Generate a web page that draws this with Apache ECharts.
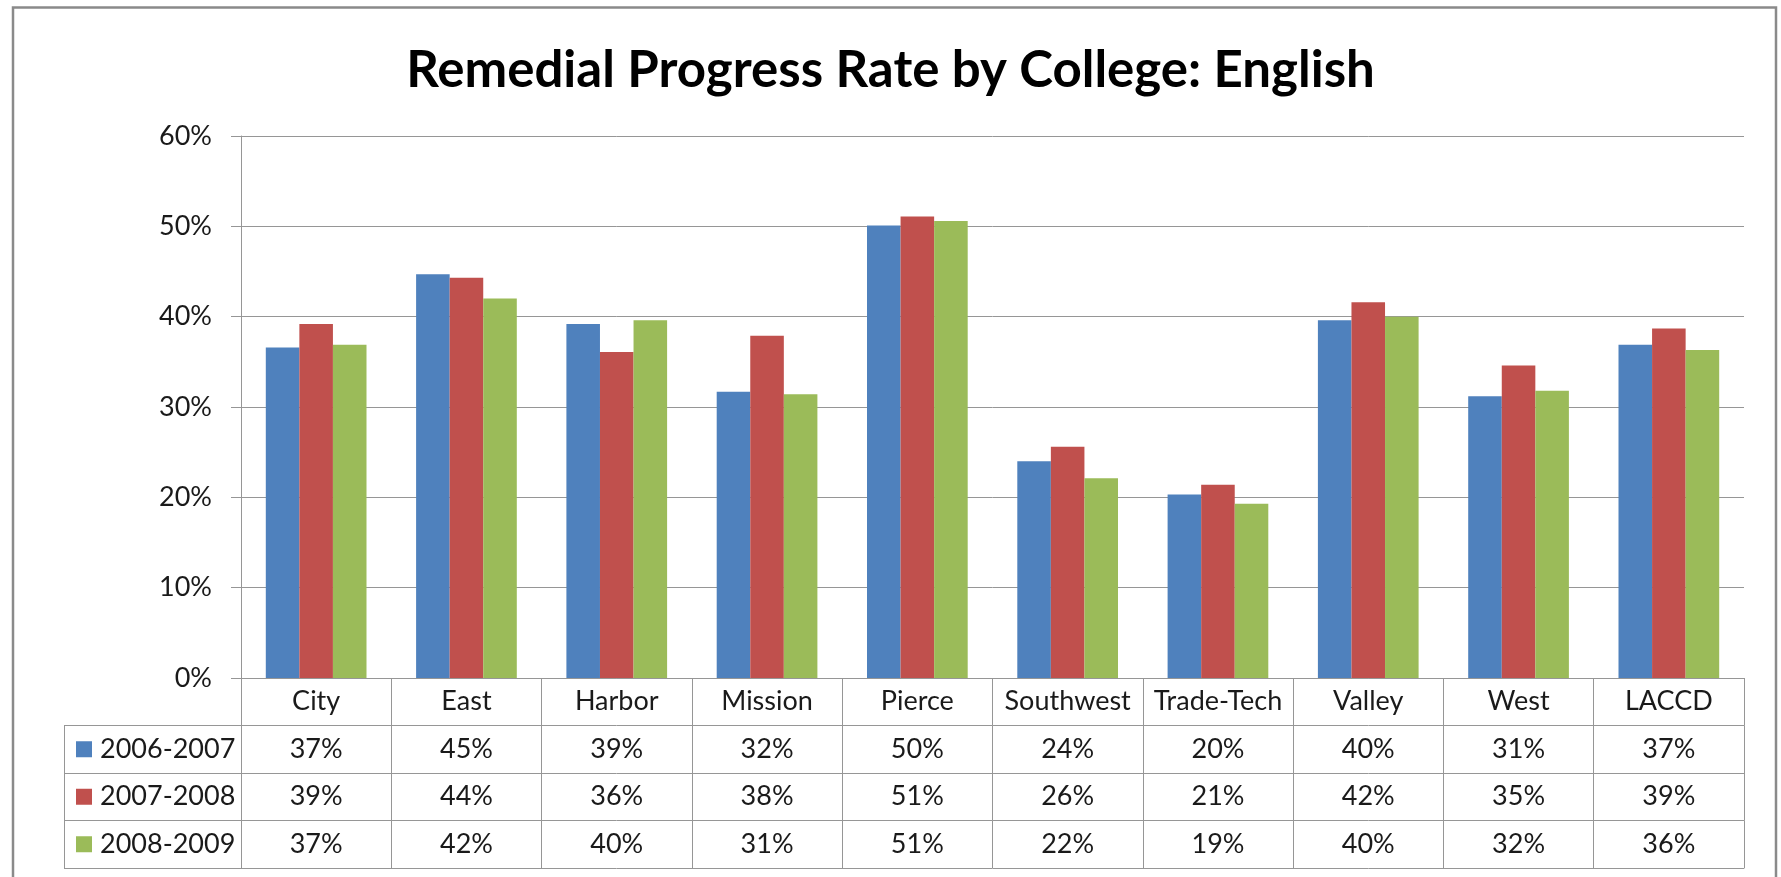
<!DOCTYPE html>
<html>
<head>
<meta charset="utf-8">
<title>Remedial Progress Rate by College: English</title>
<script src="https://cdn.jsdelivr.net/npm/echarts@6/dist/echarts.min.js"></script>
<style>
  html, body { margin: 0; padding: 0; background: #fff; }
  #chart { width: 1781px; height: 877px; }
</style>
</head>
<body>
<div id="chart"></div>
<script>
// 数据
const colleges = ['City', 'East', 'Harbor', 'Mission', 'Pierce', 'Southwest', 'Trade-Tech', 'Valley', 'West', 'LACCD'];
const seriesNames = ['2006-2007', '2007-2008', '2008-2009'];
const rate0607 = [36.6, 44.7, 39.2, 31.7, 50.1, 24.0, 20.3, 39.6, 31.2, 36.9];
const rate0708 = [39.2, 44.3, 36.1, 37.9, 51.1, 25.6, 21.4, 41.6, 34.6, 38.7];
const rate0809 = [36.9, 42.0, 39.6, 31.4, 50.6, 22.1, 19.3, 40.0, 31.8, 36.3];
const yTicks = [0, 10, 20, 30, 40, 50, 60];

const rates = [rate0607, rate0708, rate0809];
const colors = ['#4F81BD', '#C0504D', '#9BBB59'];

const FONT = 'Lato';
const TEXT = '#1a1a1a';
const LINE = '#969696';
const ROW = 47.5;   // 表格行高

/** 表格的一行：一条偏移的类目轴 */
function tableAxis(row, showLabel) {
	return {
		type: 'category',
		gridIndex: 0,
		position: 'bottom',
		offset: ROW * row,
		data: colleges,
		axisLine: { show: true, lineStyle: { color: LINE, width: 1 } },
		axisTick: {
			show: showLabel !== false,
			interval: 0,
			length: ROW,
			lineStyle: { color: LINE, width: 1 }
		},
		axisLabel: {
			show: showLabel !== false,
			interval: 0,
			margin: 10,
			fontFamily: FONT,
			fontSize: 27,
			color: TEXT,
			formatter: (v, i) => row === 0 ? v : Math.round(rates[row - 1][i]) + '%'
		},
		splitLine: { show: false }
	};
}

const chart = echarts.init(document.getElementById('chart'));

const legendRich = { t: { fontFamily: FONT, fontSize: 27, color: TEXT, padding: [0, 0, 0, 8] } };
colors.forEach((c, i) => {
	legendRich['sq' + i] = { width: 16, height: 16, backgroundColor: c };
});

const option = {
	animation: false,
	backgroundColor: '#fff',
	title: {
		text: 'Remedial Progress Rate by College: English',
		left: 'center',
		top: 40,
		textStyle: { fontFamily: FONT, fontWeight: 'bold', fontSize: 51, color: '#000' }
	},
	graphic: [{
		type: 'rect',
		shape: { x: 13, y: 7.5, width: 1763, height: 900 },
		style: { fill: 'none', stroke: '#8a8a8a', lineWidth: 2.5 },
		silent: true
	}],
	grid: [
		{ left: 241, right: 37, top: 136, bottom: 199 },
		// 表头一列（图例）
		{ left: 64, width: 177, top: 725.5, height: ROW * 3 }
	],
	xAxis: [
		tableAxis(0),
		tableAxis(1),
		tableAxis(2),
		tableAxis(3),
		tableAxis(4, false),
		{ type: 'value', gridIndex: 1, show: false }
	],
	yAxis: [
		{
			type: 'value',
			gridIndex: 0,
			min: yTicks[0],
			max: yTicks[yTicks.length - 1],
			interval: yTicks[1] - yTicks[0],
			axisLine: { show: true, lineStyle: { color: LINE, width: 1 } },
			axisTick: { show: true, length: 10, lineStyle: { color: LINE, width: 1 } },
			axisLabel: {
				margin: 29,
				fontFamily: FONT,
				fontSize: 27,
				color: TEXT,
				formatter: '{value}%'
			},
			splitLine: { show: true, lineStyle: { color: LINE, width: 1 } }
		},
		{
			type: 'category',
			gridIndex: 1,
			inverse: true,
			data: seriesNames,
			axisLine: { show: true, lineStyle: { color: LINE, width: 1 } },
			axisTick: { show: false },
			axisLabel: {
				inside: true,
				margin: 12,
				formatter: (v, i) => '{sq' + i + '|}{t|' + v + '}',
				rich: legendRich
			},
			splitLine: { show: true, lineStyle: { color: LINE, width: 1 } }
		}
	],
	series: seriesNames.map((name, i) => ({
		name: name,
		type: 'bar',
		xAxisIndex: 0,
		yAxisIndex: 0,
		data: rates[i],
		barGap: 0,
		barCategoryGap: '33%',
		itemStyle: { color: colors[i] }
	}))
};

option && chart.setOption(option);
</script>
</body>
</html>
